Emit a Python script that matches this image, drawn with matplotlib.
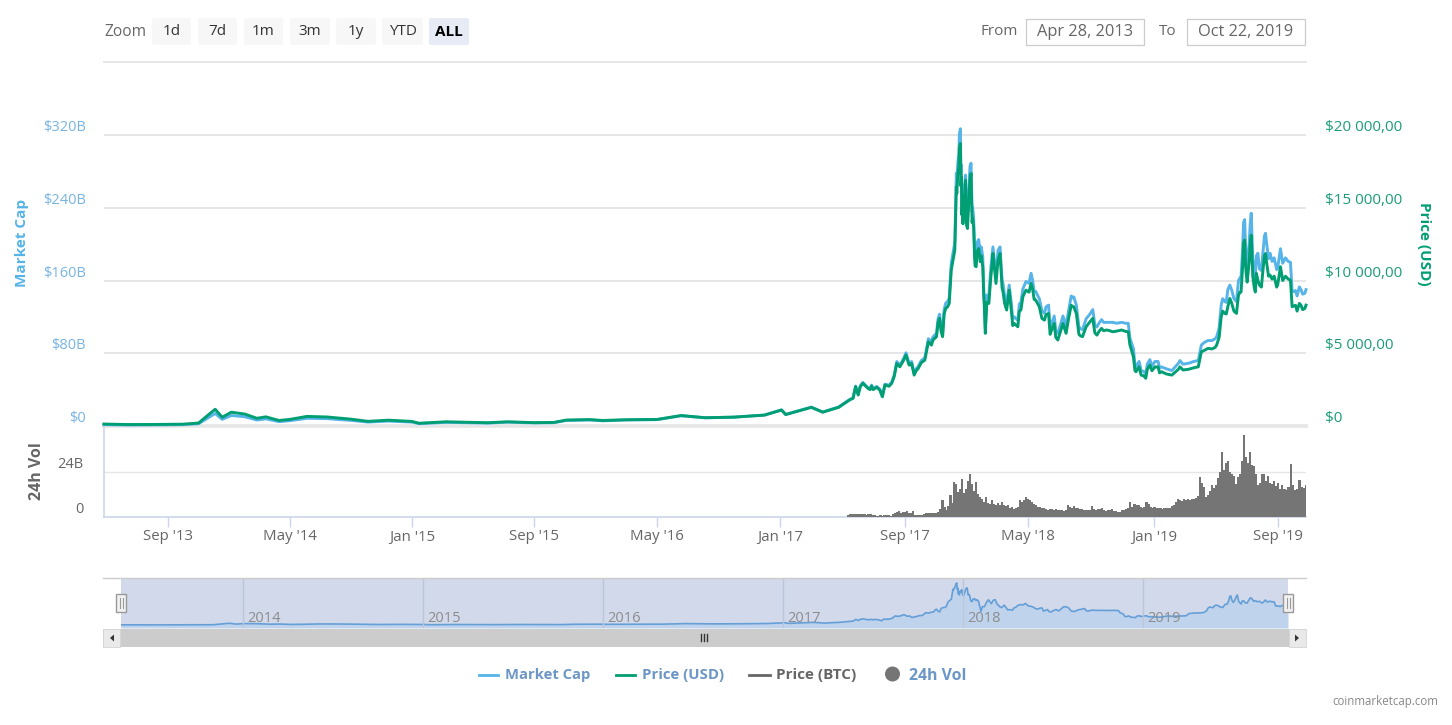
import numpy as np
import pandas as pd
import matplotlib
matplotlib.use('Agg')
import matplotlib.pyplot as plt
import matplotlib.dates as mdates
from matplotlib.patches import Rectangle, FancyBboxPatch, Circle, Polygon

W, H = 1452, 725

plt.rcParams['font.family'] = ['Open Sans', 'DejaVu Sans']

# data
dates = [
    '2013-04-28', '2013-06-15', '2013-08-01', '2013-10-01', '2013-11-01', '2013-11-18', '2013-12-04', '2013-12-18',
    '2014-01-05', '2014-02-01', '2014-02-25', '2014-03-15', '2014-04-10', '2014-05-01', '2014-06-05', '2014-07-15',
    '2014-09-01', '2014-10-05', '2014-11-15', '2015-01-01', '2015-01-15', '2015-03-10', '2015-06-01', '2015-07-10',
    '2015-09-01', '2015-10-10', '2015-11-04', '2015-12-20', '2016-01-15', '2016-03-01', '2016-05-01', '2016-06-18',
    '2016-08-05', '2016-10-01', '2016-12-01', '2017-01-04', '2017-01-12', '2017-03-03', '2017-03-25', '2017-04-25',
    '2017-05-16', '2017-05-23', '2017-05-28', '2017-06-02', '2017-06-11', '2017-06-21', '2017-06-28', '2017-07-08',
    '2017-07-14', '2017-07-19', '2017-07-24', '2017-08-06', '2017-08-16', '2017-08-22', '2017-09-03', '2017-09-09',
    '2017-09-14', '2017-09-19', '2017-09-27', '2017-10-10', '2017-10-17', '2017-10-23', '2017-10-26', '2017-11-02',
    '2017-11-08', '2017-11-14', '2017-11-20', '2017-11-27', '2017-12-01', '2017-12-08', '2017-12-11', '2017-12-14',
    '2017-12-19', '2017-12-21', '2017-12-24', '2017-12-29', '2018-01-02', '2018-01-09', '2018-01-14', '2018-01-19',
    '2018-01-24', '2018-02-01', '2018-02-06', '2018-02-13', '2018-02-21', '2018-02-27', '2018-03-07', '2018-03-16',
    '2018-03-20', '2018-03-25', '2018-04-04', '2018-04-11', '2018-04-17', '2018-04-27', '2018-05-07', '2018-05-16',
    '2018-05-23', '2018-06-02', '2018-06-10', '2018-06-16', '2018-06-21', '2018-06-28', '2018-07-08', '2018-07-14',
    '2018-07-29', '2018-08-03', '2018-08-15', '2018-08-22', '2018-09-04', '2018-09-12', '2018-09-21', '2018-10-13',
    '2018-10-30', '2018-11-12', '2018-11-22', '2018-11-27', '2018-12-03', '2018-12-16', '2018-12-24', '2019-01-03',
    '2019-01-09', '2019-01-16', '2019-02-05', '2019-02-21', '2019-02-27', '2019-03-29', '2019-04-04', '2019-04-17',
    '2019-05-04', '2019-05-13', '2019-05-20', '2019-05-26', '2019-05-30', '2019-06-12', '2019-06-21', '2019-06-28',
    '2019-07-03', '2019-07-11', '2019-07-19', '2019-07-24', '2019-07-31', '2019-08-08', '2019-08-17', '2019-08-30',
    '2019-09-06', '2019-09-24', '2019-09-27', '2019-10-10', '2019-10-20', '2019-10-22',
]
price_usd = [
    135, 100, 105, 125, 205, 700, 1150, 600,
    950, 820, 530, 630, 380, 450, 660, 620,
    470, 320, 400, 315, 190, 290, 225, 290,
    230, 245, 410, 440, 380, 430, 450, 720,
    570, 610, 750, 1100, 790, 1280, 950, 1280,
    1786, 1900, 2700, 2130, 2930, 2590, 2750, 2660,
    2470, 2010, 2820, 2930, 4300, 4070, 4880, 4190,
    4300, 3500, 3960, 4530, 5790, 5560, 5910, 6140,
    7400, 6140, 8080, 8430, 10720, 12090, 16440, 17360,
    19420, 17100, 13900, 16900, 13580, 17360, 13690, 10950,
    12200, 10950, 6370, 8430, 11860, 9800, 11860, 8430,
    7970, 9340, 7050, 6820, 7970, 9340, 9800, 8660,
    8200, 7280, 7740, 6600, 7050, 5910, 7050, 6370,
    8200, 7740, 6140, 6820, 7400, 6250, 6710, 6480,
    6600, 6480, 4760, 3730, 4070, 3280, 4190, 4070,
    4070, 3730, 3500, 4070, 3850, 4070, 5100, 5340,
    5560, 7510, 7740, 8200, 8770, 7740, 9210, 12780,
    9890, 13120, 9210, 10030, 9550, 11860, 10370, 9550,
    10950, 10030, 8200, 8430, 8080, 8310,
]
market_cap = [
    1.5, 1.1, 1.2, 1.5, 2.5, 8.4, 13.8, 7.3,
    11.6, 10.2, 6.6, 7.9, 4.8, 5.8, 8.5, 8.1,
    6.2, 4.3, 5.4, 4.3, 2.6, 4.0, 3.2, 4.2,
    3.4, 3.6, 6.1, 6.6, 5.7, 6.6, 7.0, 11.2,
    9.0, 9.7, 12.0, 17.7, 12.7, 20.8, 15.4, 21.0,
    29, 31, 44, 35, 48, 42, 45, 43.5,
    40.5, 33, 46, 48, 71, 67, 80.5, 69,
    71, 58, 65.5, 75, 96, 92.5, 98, 102,
    123, 102, 135, 141, 179, 202, 278, 290,
    327, 287, 234, 276, 229, 289, 230, 183,
    205, 186, 107, 143, 197, 166, 197, 143,
    136, 155, 120, 116, 136, 159, 168, 148,
    140, 124, 133, 113, 121, 102, 121, 110,
    142, 133, 106, 118, 128, 109, 117, 114,
    114, 113, 85, 65, 71, 57, 73, 71,
    71, 65, 61, 72, 68, 72, 89, 94,
    98, 133, 137, 150, 155, 137, 164, 227,
    176, 234, 164, 190, 171, 212, 190, 172,
    195, 180, 148, 153, 146, 150,
]
# finer readings of the jagged stretches, merged in by date below
detail_dates = [
    '2017-06-06', '2017-06-25', '2017-07-01', '2017-08-01', '2017-08-11', '2017-08-29', '2017-09-11', '2017-09-23',
    '2017-10-03', '2017-10-14', '2017-11-05', '2017-11-11', '2017-11-17', '2017-11-24', '2017-12-12', '2017-12-16',
    '2017-12-17', '2017-12-20', '2017-12-22', '2017-12-23', '2017-12-26', '2017-12-27', '2017-12-31', '2018-01-04',
    '2018-01-06', '2018-01-07', '2018-01-11', '2018-01-12', '2018-01-16', '2018-01-17', '2018-01-21', '2018-01-27',
    '2018-01-29', '2018-02-03', '2018-02-04', '2018-02-09', '2018-02-17', '2018-02-19', '2018-03-03', '2018-03-11',
    '2018-03-13', '2018-03-29', '2018-04-01', '2018-04-14', '2018-04-21', '2018-05-03', '2018-05-10', '2018-05-13',
    '2018-05-28', '2018-06-05', '2018-06-13', '2018-06-24', '2018-07-04', '2018-07-19', '2018-07-24', '2018-07-27',
    '2018-08-08', '2018-08-11', '2018-08-28', '2018-09-08', '2018-09-16', '2018-09-25', '2018-10-01', '2018-10-06',
    '2018-10-20', '2018-11-07', '2018-11-15', '2018-11-25', '2018-12-07', '2018-12-12', '2018-12-19', '2018-12-28',
    '2019-01-07', '2019-01-12', '2019-01-25', '2019-02-10', '2019-02-18', '2019-03-10', '2019-03-20', '2019-04-10',
    '2019-04-25', '2019-05-01', '2019-05-09', '2019-05-16', '2019-05-23', '2019-06-03', '2019-06-07', '2019-06-16',
    '2019-06-19', '2019-06-24', '2019-06-26', '2019-06-30', '2019-07-01', '2019-07-07', '2019-07-09', '2019-07-14',
    '2019-07-17', '2019-07-21', '2019-07-27', '2019-08-03', '2019-08-06', '2019-08-10', '2019-08-14', '2019-08-21',
    '2019-08-25', '2019-09-01', '2019-09-10', '2019-09-15', '2019-09-20', '2019-09-30', '2019-10-03', '2019-10-06',
    '2019-10-13', '2019-10-16',
]
detail_price = [
    2700, 2500, 2500, 2730, 3400, 4500, 4200, 3800,
    4350, 5250, 7100, 6500, 7700, 8200, 16000, 17800,
    19100, 16500, 14500, 15600, 15800, 15300, 13800, 15100,
    16500, 17000, 14000, 14300, 11500, 11000, 12000, 11300,
    11700, 8900, 8300, 8500, 10300, 11000, 11400, 9500,
    9200, 8000, 6900, 7900, 8900, 9200, 9400, 8700,
    7400, 7650, 6300, 6100, 6600, 7400, 8300, 8200,
    6300, 6200, 7100, 6400, 6500, 6550, 6600, 6560,
    6520, 6500, 5600, 3800, 3500, 3450, 3900, 3800,
    4050, 3650, 3580, 3650, 3900, 3900, 4000, 5200,
    5300, 5400, 6100, 7900, 7700, 8400, 7900, 9000,
    9200, 10900, 12600, 11000, 10500, 11300, 12500, 10300,
    9500, 10500, 9700, 10700, 11700, 11300, 10300, 10100,
    10300, 9700, 10000, 10300, 10100, 8250, 8300, 7900,
    8300, 8000,
]
detail_cap = [
    44, 41, 41, 45, 56, 74, 69, 63,
    72, 87, 118, 108, 128, 137, 270, 300,
    321, 277, 245, 262, 265, 258, 232, 254,
    277, 286, 236, 241, 194, 185, 202, 190,
    197, 150, 140, 144, 175, 186, 193, 161,
    156, 136, 118, 134, 151, 157, 160, 148,
    127, 131, 108, 105, 113, 127, 143, 141,
    109, 107, 122, 111, 113, 114, 114, 114,
    113, 113, 97, 67, 61, 60, 68, 66,
    71, 64, 63, 64, 69, 69, 71, 92,
    94, 96, 108, 140, 136, 149, 140, 160,
    163, 194, 224, 196, 187, 201, 222, 184,
    170, 187, 173, 191, 209, 202, 184, 181,
    185, 174, 179, 185, 181, 148, 149, 143,
    150, 145,
]
# 24h volume in billions, evenly spaced from vol_start to vol_end
vol_start, vol_end = '2017-05-14', '2019-10-22'
volume = [
    1.3, 1.4, 1.5, 1.4, 1.5, 1.6, 1.5, 1.4, 1.5, 1.3, 1.4, 1.5, 1.3, 1.2,
    0.7, 0.8, 1.0, 0.8, 1.1, 0.9, 1.0, 0.8,
    1.6, 1.9, 2.8, 3.1, 2.2, 2.7, 2.6, 3.2, 2.4, 2.1, 3.4,
    1.1, 1.0, 1.3, 1.2, 1.1, 1.4, 2.1, 2.3, 2.0, 1.9, 2.2, 2.4, 2.6,
    4.5, 8.9, 5.5, 4.0, 6.0, 11.5, 7.5, 18.7, 17.5, 13.5, 15, 20.5, 13, 15, 19, 23, 17.8, 14, 18.7,
    12.5, 10.5, 9.7, 8.2, 10.7, 7.5, 7, 8.9, 7, 6.2, 7.5, 6.5, 8, 6.6, 5.7, 6.2, 5, 5.3, 4.4, 4.6,
    5.5, 8.9, 8.2, 9.2, 10.7, 9.6, 8.9, 8, 7.1, 6.2, 5.6, 5.3, 4.8, 4.6, 4.3, 3.9, 4.1, 4.4, 3.8, 4.3,
    3.9, 3.6, 3.5, 3.2, 3.8, 6.2, 5.4, 5.0, 5.7, 5.0, 4.6, 4.3, 4.4, 3.9, 4.0, 3.6, 3.9, 5.7, 4.4, 3.9,
    4.4, 4.1, 4.6, 3.7, 3.4, 3.7, 3.5, 4.4, 3.2, 3.0, 2.8, 2.9, 3.6, 4.0, 4.4, 4.9, 8.0, 5.6, 7.1, 6.2,
    6.2, 5.3, 4.6, 5.5, 8.0, 7.0, 5.3, 5.0, 5.5, 4.7, 5.0, 4.6, 4.4, 5.0, 4.8, 5.0, 4.7, 5.8, 6.4, 7.8,
    9.8, 9.0, 8.4, 9.8, 9.0, 9.6, 9.2, 9.8, 9.5, 10.2, 11, 21.4, 18, 16, 10.7, 12, 14, 17, 15.5, 17,
    21, 24, 34.7, 25, 29, 30, 24, 23, 22, 17.8, 21.4, 23, 30, 44, 32, 29, 34.7, 28, 27, 23,
    17, 18, 23, 23, 19, 22, 18, 17.5, 19, 16.5, 18, 15, 17, 15, 14.5, 16, 28.5, 17, 14.5, 15,
    20, 16, 15.5, 17,
]

cap_ticks = [0, 80, 160, 240, 320]
cap_labels = ['$0', '$80B', '$160B', '$240B', '$320B']
price_ticks = [0, 5000, 10000, 15000, 20000]
price_labels = ['$0', '$5 000,00', '$10 000,00', '$15 000,00', '$20 000,00']
vol_ticks = [0, 24]
vol_labels = ['0', '24B']

tick_dates = ['2013-09-01', '2014-05-01', '2015-01-01', '2015-09-01', '2016-05-01',
              '2017-01-01', '2017-09-01', '2018-05-01', '2019-01-01', '2019-09-01']
tick_labels = ["Sep '13", "May '14", "Jan '15", "Sep '15", "May '16",
               "Jan '17", "Sep '17", "May '18", "Jan '19", "Sep '19"]
nav_years = ['2014-01-01', '2015-01-01', '2016-01-01', '2017-01-01', '2018-01-01', '2019-01-01']
nav_labels = ['2014', '2015', '2016', '2017', '2018', '2019']
zoom_buttons = ['1d', '7d', '1m', '3m', '1y', 'YTD', 'ALL']

BLUE = '#56B4E9'
GREEN = '#009E73'
GREY = '#666666'
GRID = '#e6e6e6'
AXIS = '#ccd6eb'
LINK = '#6b96c6'


def num(d):
    return mdates.date2num(pd.to_datetime(d))


def px_axes(left, top, right, bottom, **kw):
    return fig.add_axes([left / W, 1 - bottom / H, (right - left) / W, (bottom - top) / H], **kw)


series = pd.DataFrame({'date': dates + detail_dates,
                       'price': price_usd + detail_price,
                       'cap': market_cap + detail_cap}).sort_values('date')
x = num(series['date'])
x_start, x_end = num('2013-04-28'), num('2019-10-22')

# the site's time axis is ordinal (gaps in data squeeze it), so ticks are not evenly spaced
ord_dates = np.concatenate([[x_start], num(tick_dates), [x_end]])
ord_pos = np.array([104, 168, 289.5, 412, 534, 657, 780, 905, 1028, 1154, 1277.7, 1306], dtype=float)


def to_ord(v):
    return np.interp(v, ord_dates, ord_pos)


def from_ord(v):
    return np.interp(v, ord_pos, ord_dates)


fig = plt.figure(figsize=(W / 100, H / 100), dpi=100, facecolor='white')

# main panel
ax = px_axes(104, 62, 1306, 426)
ax.set_xscale('function', functions=(to_ord, from_ord))
ax.set_xlim(x_start, x_end)
ax.set_ylim(0, 400.4)
ax.patch.set_alpha(0)
ax.set_yticks(cap_ticks, cap_labels)
ax.tick_params(axis='y', length=0, pad=13, labelsize=10.5, labelcolor='#78b4e2')
for lab in ax.get_yticklabels():
    lab.set_verticalalignment('bottom')
ax.set_xticks([])
ax.grid(axis='y', color=GRID, lw=1.4)
ax.set_axisbelow(True)
ax.axhline(0, color=GRID, lw=2.6, clip_on=False, zorder=1)
for s in ax.spines.values():
    s.set_visible(False)
ax.plot(x, series['cap'], color=BLUE, lw=2.1, solid_joinstyle='round', zorder=3, clip_on=False)

ax2 = ax.twinx()
ax2.set_ylim(0, 400.4 / 320 * 20000)
ax2.set_yticks(price_ticks, price_labels)
ax2.tick_params(axis='y', length=0, pad=14, labelsize=11, labelcolor='#1a9c7a')
for lab in ax2.get_yticklabels():
    lab.set_verticalalignment('bottom')
for s in ax2.spines.values():
    s.set_visible(False)
ax2.plot(x, series['price'], color=GREEN, lw=2.1, solid_joinstyle='round', clip_on=False)

# volume panel
vx = px_axes(104, 428, 1306, 517)
vx.set_xscale('function', functions=(to_ord, from_ord))
vx.set_xlim(x_start, x_end)
vx.set_ylim(0, 89 / 45 * 24)
vx.patch.set_alpha(0)
vol_x = np.linspace(num(vol_start), num(vol_end), len(volume))
vx.bar(vol_x, volume, width=4.4, color='#757575', linewidth=0, zorder=3)
vx.set_yticks(vol_ticks, vol_labels)
vx.tick_params(axis='y', length=0, pad=15, labelsize=10.5, labelcolor=GREY)
for lab in vx.get_yticklabels():
    lab.set_verticalalignment('bottom')
vx.grid(axis='y', color=GRID, lw=1.0)
vx.set_axisbelow(True)
vx.set_xticks(num(tick_dates), tick_labels)
vx.minorticks_off()
vx.tick_params(axis='x', length=7, width=1, color=AXIS, pad=2, labelsize=10.8, labelcolor=GREY)
for s in ['top', 'right']:
    vx.spines[s].set_visible(False)
for s in ['left', 'bottom']:
    vx.spines[s].set_color(AXIS)
    vx.spines[s].set_linewidth(1.2)

# navigator
nav = px_axes(121, 578, 1288, 628)
nav.set_facecolor('#d1d9eb')
nav.set_xlim(x_start, x_end)
nav.set_ylim(-23, 366)
nav.fill_between(x, series['cap'], -23, color='#c0d3ec', lw=0)
nav.plot(x, series['cap'], color='#649fd8', lw=1.2)
for d, lab in zip(nav_years, nav_labels):
    nav.axvline(num(d), color='#bcc6d9', lw=1)
    nav.annotate(lab, (num(d), 0.2), xycoords=('data', 'axes fraction'), xytext=(3, 0),
                 textcoords='offset points', va='center', ha='left', fontsize=10.5, color='#8c8c8c')
nav.set_xticks([])
nav.set_yticks([])
for s in nav.spines.values():
    s.set_visible(False)

# page furniture, in pixel coordinates
ui = fig.add_axes([0, 0, 1, 1], zorder=5)
ui.set_xlim(0, W)
ui.set_ylim(H, 0)
ui.axis('off')

ui.text(104, 32, 'Zoom', fontsize=11.2, color=GREY, va='center')
btn_left = [152, 198, 244, 290, 336, 382, 429]
btn_right = [191, 237, 283, 330, 376, 423, 469]
for lab, l, r in zip(zoom_buttons, btn_left, btn_right):
    active = lab == 'ALL'
    ui.add_patch(FancyBboxPatch((l + 2, 20), r - l - 4, 23, boxstyle='round,pad=2',
                                fc='#e6ebf5' if active else '#f7f7f7', ec='none'))
    ui.text((l + r) / 2, 31.5, lab, fontsize=11, ha='center', va='center',
            color='black' if active else '#333333', fontweight='bold' if active else 'normal')

ui.plot([104, 1306], [61.5, 61.5], color=GRID, lw=1.4)
ui.text(980, 31.5, 'From', fontsize=11, color=GREY, va='center')
ui.text(1159, 31.5, 'To', fontsize=11, color=GREY, va='center')
for l, r, lab in [(1026, 1144, 'Apr 28, 2013'), (1187, 1305, 'Oct 22, 2019')]:
    ui.add_patch(Rectangle((l, 18.5), r - l, 26.5, fc='white', ec='#cccccc', lw=0.9))
    ui.text((l + r) / 2, 31.5, lab, fontsize=11.8, color=GREY, ha='center', va='center')

ui.text(22, 243, 'Market Cap', rotation=90, fontsize=11, fontweight='bold', color=BLUE, ha='center', va='center')
ui.text(1424, 244, 'Price (USD)', rotation=270, fontsize=11, fontweight='bold', color=GREEN, ha='center', va='center')
ui.text(37, 471, '24h Vol', rotation=90, fontsize=11.5, fontweight='bold', color=GREY, ha='center', va='center')

# scrollbar under the navigator
ui.plot([103, 1306], [578, 578], color='#cccccc', lw=1)
ui.add_patch(Rectangle((103, 629), 1203, 17.5, fc='#cccccc', ec='none'))
for l in [103, 1289]:
    ui.add_patch(Rectangle((l, 629), 17, 17.5, fc='#e9e9e9', ec='#d5d5d5', lw=0.6))
ui.add_patch(Polygon([[114, 634.5], [114, 641.5], [110, 638]], fc='#333333', ec='none'))
ui.add_patch(Polygon([[1295, 634.5], [1295, 641.5], [1299, 638]], fc='#333333', ec='none'))
for bx in [701, 704, 707]:
    ui.plot([bx, bx], [634, 641], color='#333333', lw=1)
for hx in [121, 1288]:
    ui.add_patch(Rectangle((hx - 5, 594), 10, 18, fc='#f2f2f2', ec='#999999', lw=1, zorder=4))
    for dx in [-1.5, 1.5]:
        ui.plot([hx + dx, hx + dx], [598, 608], color='#999999', lw=0.8, zorder=5)

# legend row
ui.plot([479, 498], [675, 675], color=BLUE, lw=2)
ui.text(505, 675.5, 'Market Cap', fontsize=10.6, fontweight='bold', color=LINK, va='center')
ui.plot([616, 635], [675, 675], color=GREEN, lw=2)
ui.text(642, 675.5, 'Price (USD)', fontsize=10.8, fontweight='bold', color=LINK, va='center')
ui.plot([749, 770], [675, 675], color=GREY, lw=2)
ui.text(776, 675.5, 'Price (BTC)', fontsize=11, fontweight='bold', color=GREY, va='center')
ui.add_patch(Circle((892.5, 674), 7.5, fc='#757575', ec='none'))
ui.text(909, 675.5, '24h Vol', fontsize=11.4, fontweight='bold', color=LINK, va='center')
ui.text(1438, 702, 'coinmarketcap.com', fontsize=8.3, color='#888888', ha='right', va='center')

fig.savefig('out.png', dpi=100, facecolor='white')
